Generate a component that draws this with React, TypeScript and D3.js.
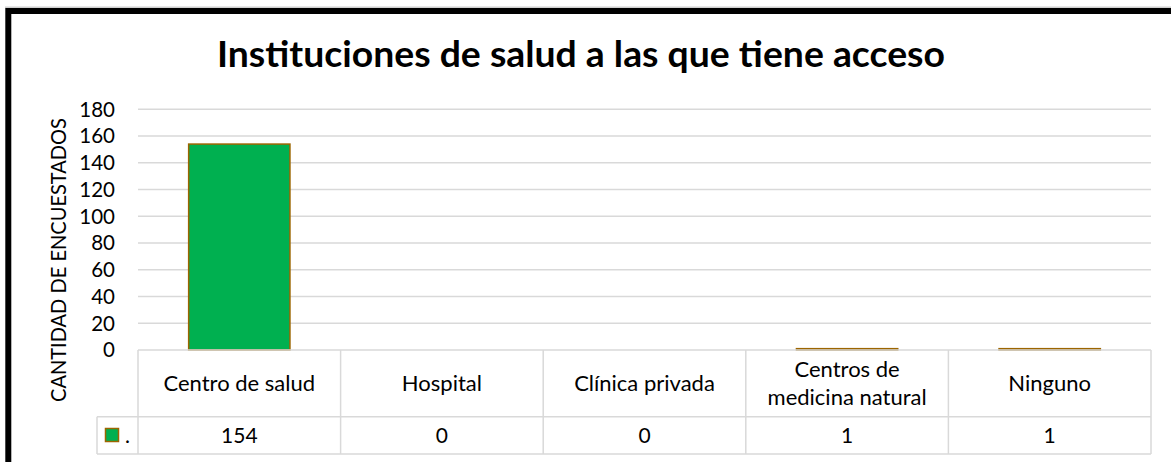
import React from 'react';
import * as d3 from 'd3';

const categories = ['Centro de salud', 'Hospital', 'Clínica privada', 'Centros de\nmedicina natural', 'Ninguno'];
const values = [154, 0, 0, 1, 1];
const yTicks = [0, 20, 40, 60, 80, 100, 120, 140, 160, 180];
const seriesName = '.';

const W = 1171;
const H = 462;
const FONT = 'Lato, "Open Sans", sans-serif';

const App = () => {
  const left = 138;
  const right = 1151;
  const top = 109.3;
  const bottom = 350;
  const row1 = 416.7;
  const row2 = 454;
  const legendLeft = 97;

  const x = d3.scaleBand<string>()
    .domain(categories)
    .range([left, right])
    .paddingInner(0.5)
    .paddingOuter(0.25);
  const y = d3.scaleLinear().domain([0, 180]).range([bottom, top]);
  const step = (right - left) / categories.length;
  const grid = '#d9d9d9';

  return (
    <div style={{ position: 'absolute', left: 0, top: 0 }}>
      <svg width={W} height={H} style={{ display: 'block', fontFamily: FONT }}>
        <rect width={W} height={H} fill="white" />
        {/* outer frame */}
        <line x1={5} x2={W} y1={7.3} y2={7.3} stroke="#d0d0d0" strokeWidth={1.5} />
        <rect x={8.3} y={11} width={1300} height={600} fill="none" stroke="black" strokeWidth={6} />

        <text
          x={581}
          y={67}
          textAnchor="middle"
          fontSize={36}
          fontWeight="bold"
          fill="#000"
          textLength={728}
          lengthAdjust="spacingAndGlyphs"
        >
          Instituciones de salud a las que tiene acceso
        </text>

        {/* gridlines + ticks */}
        {yTicks.map(t => (
          <g key={t}>
            {t > 0 && <line x1={left} x2={right} y1={y(t)} y2={y(t)} stroke={grid} strokeWidth={1.5} />}
            <text x={115} y={y(t)} dy="0.36em" textAnchor="end" fontSize={20.5} fill="#000">{t}</text>
          </g>
        ))}

        <text
          transform={`translate(66,260) rotate(-90)`}
          textAnchor="middle"
          fontSize={21.5}
          fill="#000"
          textLength={284}
          lengthAdjust="spacingAndGlyphs"
        >
          CANTIDAD DE ENCUESTADOS
        </text>

        {/* bars */}
        {categories.map((c, i) => values[i] > 0 && (
          <rect
            key={c}
            x={x(c)}
            y={y(values[i])}
            width={x.bandwidth()}
            height={y(0) - y(values[i])}
            fill="#00b050"
            stroke="#9c6500"
            strokeWidth={1.5}
          />
        ))}

        {/* data table */}
        <g stroke={grid} strokeWidth={1.5} fill="none">
          <line x1={left} x2={right} y1={bottom} y2={bottom} />
          <line x1={legendLeft} x2={right} y1={row1} y2={row1} />
          <line x1={legendLeft} x2={right} y1={row2} y2={row2} />
          <line x1={legendLeft} x2={legendLeft} y1={row1} y2={row2} />
          {d3.range(categories.length + 1).map(i => (
            <line key={i} x1={left + i * step} x2={left + i * step} y1={bottom} y2={row2} />
          ))}
        </g>
        {categories.map((c, i) => {
          const cx = left + (i + 0.5) * step;
          const lines = c.split('\n');
          const cy = (bottom + row1) / 2;
          return (
            <g key={c}>
              {lines.map((l, j) => (
                <text
                  key={j}
                  x={cx}
                  y={cy + (j - (lines.length - 1) / 2) * 28}
                  dy="0.36em"
                  textAnchor="middle"
                  fontSize={22}
                  fill="#000"
                >
                  {l}
                </text>
              ))}
              <text x={cx} y={(row1 + row2) / 2} dy="0.36em" textAnchor="middle" fontSize={21} fill="#000">
                {values[i]}
              </text>
            </g>
          );
        })}
        <rect x={105.5} y={428.5} width={13} height={13} fill="#00b050" stroke="#9c6500" strokeWidth={1.5} />
        <text x={125} y={(row1 + row2) / 2} dy="0.36em" fontSize={21} fill="#000">{seriesName}</text>
      </svg>
    </div>
  );
};

export default App;
